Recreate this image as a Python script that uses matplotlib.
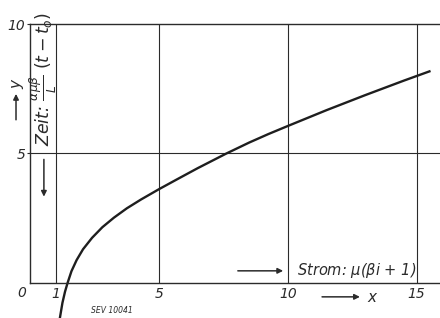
import matplotlib
matplotlib.use("Agg")
import matplotlib.pyplot as plt

plt.rcParams['font.family'] = ['DejaVu Sans']
plt.rcParams['mathtext.fontset'] = 'dejavusans'

# Kurve
strom = [1.15, 1.25, 1.35, 1.45, 1.6, 1.8, 2.05, 2.4, 2.8, 3.25, 3.75, 4.3,
         5.0, 5.7, 6.5, 7.6, 8.5, 9.25, 10.0, 11.5, 13.0, 14.5, 15.5]
zeit = [-1.36, -0.77, -0.34, 0.0, 0.45, 0.88, 1.3, 1.74, 2.15, 2.52, 2.88, 3.22,
        3.62, 4.0, 4.43, 4.99, 5.42, 5.75, 6.06, 6.67, 7.25, 7.81, 8.17]

x_gitter = [1, 5, 10, 15]
y_gitter = [5]
x_labels = ['1', '5', '10', '15']
y_ticks = [5, 10]
y_labels = ['5', '10']

ink = '#2b2b2b'

fig = plt.figure(figsize=(4.4, 3.18), dpi=100)
ax = fig.add_axes([30.25 / 440, 0.0, 1 - 30.25 / 440, (318 - 24) / 318])
ax.set_xlim(0, 15.91)
ax.set_ylim(-1.357, 10)

# Rahmen
ax.spines['right'].set_visible(False)
ax.spines['bottom'].set_position(('data', 0))
ax.spines['left'].set_bounds(0, 10)
for s in ['left', 'bottom', 'top']:
    ax.spines[s].set_color(ink)
    ax.spines[s].set_linewidth(1.0)

# Gitter
ax.vlines(x_gitter, 0, 10, color=ink, lw=0.8)
ax.hlines(y_gitter, 0, 15.91, color=ink, lw=0.8)

# Kurve
ax.plot(strom, zeit, color='#1e1e1e', lw=1.7, clip_on=False,
        solid_joinstyle='round')

# Achsenbeschriftung
ax.set_xticks(x_gitter)
ax.set_xticklabels(x_labels, fontstyle='italic', fontsize=10, color=ink)
ax.tick_params(axis='x', length=0, pad=3)
ax.set_yticks(y_ticks)
ax.set_yticklabels(y_labels, fontstyle='italic', fontsize=10, color=ink)
ax.tick_params(axis='y', length=2.5, pad=1, color=ink)
ax.text(-0.32, -0.39, '0', fontstyle='italic', fontsize=10, color=ink,
        ha='center', va='center')

arrow = dict(arrowstyle='-|>', color=ink, lw=1.1, mutation_scale=8,
             shrinkA=0, shrinkB=0)

# y-Achse
ax.annotate('', xy=(-0.553, 7.3), xytext=(-0.553, 6.3),
            arrowprops=arrow, annotation_clip=False)
ax.text(-0.52, 7.68, 'y', rotation=90, fontstyle='italic', fontsize=11,
        color=ink, ha='center', va='center', clip_on=False)

ax.text(0.5, 7.87, r'Zeit: $\frac{\alpha\mu\beta}{L}$ $(t-t_o)$', rotation=90,
        fontstyle='italic', fontsize=12.5, color=ink, ha='center', va='center',
        clip_on=False)
ax.annotate('', xy=(0.53, 3.33), xytext=(0.53, 4.77), arrowprops=arrow)

# x-Achse
ax.annotate('', xy=(9.82, 0.465), xytext=(8.06, 0.465), arrowprops=arrow)
ax.text(10.36, 0.465, r'Strom: $\mu$($\beta$i + 1)', fontstyle='italic',
        fontsize=10.5, color=ink, ha='left', va='center')
ax.annotate('', xy=(12.8, -0.54), xytext=(11.33, -0.54), arrowprops=arrow,
            annotation_clip=False)
ax.text(13.08, -0.56, 'x', fontstyle='italic', fontsize=11, color=ink,
        ha='left', va='center')

ax.text(3.17, -1.085, 'SEV 10041', fontstyle='italic', fontsize=5.5, color=ink,
        ha='center', va='center')

fig.savefig('out.png', dpi=100)
